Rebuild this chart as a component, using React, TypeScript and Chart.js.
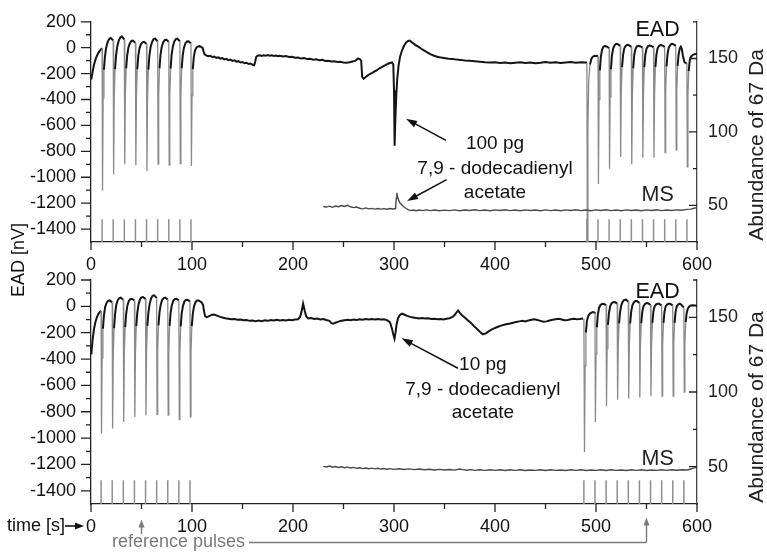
import React, { useEffect, useRef } from 'react';
import { Chart, registerables } from 'chart.js';

Chart.register(...registerables);

type P = [number, number];

const FONT = "'Liberation Sans', Arial, Helvetica, sans-serif";
const AXIS = '#222';
const TRACE = '#151515';
const SPIKE = '#8a8a8a';
const PULSE = '#8f8f8f';
const MSCOL = '#4a4a4a';

// ---------- axes ----------
const xTicks = [0, 100, 200, 300, 400, 500, 600];
const xMinor = [50, 150, 250, 350, 450, 550];
const eadTicks = [200, 0, -200, -400, -600, -800, -1000, -1200, -1400];
const eadMinor = [100, -100, -300, -500, -700, -900, -1100, -1300];
const msTicks = [50, 100, 150];
const msMinor = [75, 125, 175];

// ---------- reference pulses (s) ----------
const topPulses = [11, 22, 33, 44, 55, 66, 77, 88, 99, 491, 502, 513, 524, 535, 546, 557, 568, 579, 590];
const bottomPulses = [10, 21, 32, 43, 54, 65, 76, 87, 98, 488, 499, 510, 521, 532, 543, 554, 565, 576, 587];
const topPulseHeight = -1325;
const bottomPulseHeight = -1320;

// ---------- top panel: EAD (nV) ----------
const topEadLeft: P[] = [
  [0.3, -245], [1.5, -190], [3, -130], [4.5, -90], [6, -60], [7.5, -38], [9, -20], [10.5, -8], [11, -5],
  [11.4, -1103], [12, -390], [12.8, -170], [13.8, -70], [15, 0], [16.5, 45], [18, 68], [19.5, 75], [21, 64], [22, 56],
  [22.4, -978], [23, -380], [23.8, -165], [24.8, -60], [26, 10], [27.5, 55], [29, 80], [30.5, 88], [32, 72], [33, 62],
  [33.4, -899], [34, -370], [34.8, -160], [35.8, -62], [37, 0], [38.5, 35], [40, 52], [41.5, 55], [43, 44], [44, 38],
  [44.4, -907], [45, -370], [45.8, -165], [46.8, -65], [48, -5], [49.5, 28], [51, 42], [52.5, 45], [54, 36], [55, 30],
  [55.4, -952], [56, -380], [56.8, -170], [57.8, -62], [59, 5], [60.5, 45], [62, 66], [63.5, 70], [65, 58], [66, 50],
  [66.4, -899], [67, -365], [67.8, -160], [68.8, -58], [70, 5], [71.5, 42], [73, 58], [74.5, 62], [76, 52], [77, 46],
  [77.4, -907], [78, -370], [78.8, -162], [79.8, -56], [81, 8], [82.5, 48], [84, 66], [85.5, 70], [87, 58], [88, 50],
  [88.4, -894], [89, -365], [89.8, -160], [90.8, -60], [92, 0], [93.5, 35], [95, 48], [96.5, 50], [98, 40], [99, 34],
  [99.4, -914], [100, -370], [100.8, -165], [101.8, -70], [103, -20], [104.5, 2], [106, 10], [107.5, 12], [109, 6], [110.5, -2],
  [111.5, -30], [112.5, -52], [114, -60], [116, -66], [118, -62], [120, -72], [122, -68], [124, -78], [126, -74], [128, -84],
  [130, -80], [132, -90], [134, -86], [136, -96], [138, -92], [140, -102], [142, -98], [144, -108], [146, -104], [148, -114],
  [150, -110], [152, -120], [154, -116], [156, -126], [158, -122], [160, -132], [161.5, -136],
];
const topEadMiddle: P[] = [
  [162.5, -110], [163.5, -72], [165, -62], [167, -58], [169, -64], [171, -58], [173, -62], [175, -56], [177, -62], [179, -58],
  [181, -64], [183, -60], [185, -66], [187, -62], [190, -68], [193, -64], [196, -72], [199, -70], [202, -78], [205, -76],
  [208, -84], [211, -80], [214, -88], [217, -86], [220, -92], [223, -90], [226, -96], [229, -94], [232, -102], [235, -100],
  [238, -106], [241, -104], [244, -110], [247, -108], [250, -114], [253, -116], [256, -112], [259, -106], [262, -100], [264, -84],
  [266, -86], [267.5, -100], [268.5, -225], [270, -240], [272, -226], [274, -214], [276, -204], [278, -196], [280, -186], [282, -178],
  [284, -168], [286, -158], [288, -150], [290, -140], [292, -132], [294, -124], [296, -118], [298, -114], [299.3, -130], [300, -330],
  [300.6, -756], [301.3, -560], [302.2, -380], [303.2, -240], [304.5, -140], [306, -70], [308, -20], [310, 15], [312, 40], [314, 52],
  [315.5, 55], [317, 46], [319, 34], [321, 22], [324, 8], [327, -8], [330, -22], [333, -36], [336, -50], [339, -60],
  [342, -68], [345, -74], [348, -78], [351, -82], [354, -86], [358, -88], [362, -92], [366, -94], [370, -98], [375, -100],
  [380, -104], [385, -108], [390, -112], [395, -115], [400, -112], [405, -118], [410, -114], [415, -120], [420, -116], [425, -112],
  [430, -118], [435, -114], [440, -120], [445, -116], [450, -110], [455, -116], [460, -112], [465, -118], [470, -114], [475, -110],
  [480, -116], [485, -112], [490, -114],
];
const topEadRight: P[] = [
  [491, -118], [491.4, -1600], [492, -600], [492.8, -260], [494, -130], [495.5, -85], [497, -68], [499, -62], [501, -64], [502, -66],
  [502.4, -1053], [503, -400], [503.8, -175], [504.8, -70], [506, -15], [507.5, 8], [509, 12], [510.5, 10], [512, 2], [513, -4],
  [513.4, -935], [514, -380], [514.8, -165], [515.8, -60], [517, -5], [518.5, 20], [520, 30], [521.5, 28], [523, 20], [524, 14],
  [524.4, -844], [525, -350], [525.8, -150], [526.8, -55], [528, -5], [529.5, 15], [531, 22], [532.5, 20], [534, 12], [535, 6],
  [535.4, -900], [536, -370], [536.8, -160], [537.8, -60], [539, -10], [540.5, 10], [542, 14], [543.5, 12], [545, 6], [546, 0],
  [546.4, -850], [547, -350], [547.8, -150], [548.8, -56], [550, -8], [551.5, 12], [553, 16], [554.5, 14], [556, 8], [557, 2],
  [557.4, -850], [558, -350], [558.8, -150], [559.8, -55], [561, -5], [562.5, 15], [564, 20], [565.5, 18], [567, 12], [568, 6],
  [568.4, -810], [569, -340], [569.8, -145], [570.8, -52], [572, 0], [573.5, 20], [575, 30], [576.5, 28], [578, 20], [579, 14],
  [579.4, -790], [580, -335], [580.8, -140], [581.8, -50], [583, -5], [584, 8], [585, -10], [586, -60], [587.5, -110], [589, -120], [590, -118],
  [590.4, -919], [591, -380], [591.8, -180], [592.8, -100], [594, -70], [595.5, -58], [597, -52], [598.5, -48], [600, -46],
];

// ---------- top panel: MS, abundance of 67 Da ----------
const topMs: P[] = [
  [230, 49.2], [233, 48.8], [236, 49.4], [239, 48.6], [242, 49.5], [245, 49], [248, 49.8], [251, 49.2], [254, 50], [257, 49],
  [260, 48.4], [263, 48.8], [266, 48], [269, 47.6], [272, 48.2], [275, 47.6], [278, 47.9], [281, 47.4], [284, 47.8], [287, 47.4],
  [290, 47.7], [293, 47.3], [296, 47.8], [299, 47.5], [301.5, 47.8], [302.3, 55], [302.8, 58.4], [303.5, 56], [304.5, 53.5], [306, 51.5],
  [308, 50], [310, 48.8], [312, 47.8], [314, 47], [316, 46.4], [319, 46.8], [322, 46.3], [325, 46.8], [328, 46.4], [332, 46.9],
  [336, 46.4], [340, 46.8], [345, 46.3], [350, 46.7], [355, 46.4], [360, 46.9], [365, 46.3], [370, 46.8], [375, 46.5], [380, 47],
  [385, 46.4], [390, 46.8], [395, 46.3], [400, 46.9], [405, 46.5], [410, 47], [415, 46.4], [420, 46.8], [425, 46.3], [430, 46.9],
  [435, 46.5], [440, 46.8], [445, 46.3], [450, 46.9], [455, 46.4], [460, 46.8], [465, 46.3], [470, 46.9], [475, 46.5], [480, 47],
  [485, 46.4], [490, 46.8], [495, 46.3], [500, 46.9], [505, 46.5], [510, 47], [515, 46.4], [520, 46.8], [525, 46.3], [530, 46.9],
  [535, 46.5], [540, 46.8], [545, 46.3], [550, 46.9], [555, 46.5], [560, 47], [565, 46.4], [570, 46.8], [575, 46.5], [580, 46.9],
  [585, 46.6], [590, 47.2], [594, 47.4], [597, 48], [600, 48.4],
];

// ---------- bottom panel: EAD (nV) ----------
const bottomEadLeft: P[] = [
  [0.3, -365], [1.5, -260], [3, -170], [4.5, -115], [6, -80], [7.5, -55], [9, -40], [10, -34],
  [10.4, -965], [11, -390], [11.8, -170], [12.8, -70], [14, -5], [15.5, 28], [17, 42], [18.5, 45], [20, 36], [21, 30],
  [21.4, -927], [22, -380], [22.8, -165], [23.8, -60], [25, 10], [26.5, 48], [28, 62], [29.5, 66], [31, 56], [32, 50],
  [32.4, -877], [33, -360], [33.8, -158], [34.8, -58], [36, 5], [37.5, 42], [39, 55], [40.5, 58], [42, 50], [43, 44],
  [43.4, -839], [44, -350], [44.8, -150], [45.8, -52], [47, 12], [48.5, 52], [50, 68], [51.5, 71], [53, 62], [54, 55],
  [54.4, -826], [55, -345], [55.8, -148], [56.8, -50], [58, 15], [59.5, 60], [61, 80], [62.5, 84], [64, 72], [65, 64],
  [65.4, -819], [66, -340], [66.8, -145], [67.8, -48], [69, 12], [70.5, 50], [72, 63], [73.5, 66], [75, 58], [76, 52],
  [76.4, -826], [77, -345], [77.8, -148], [78.8, -52], [80, 8], [81.5, 44], [83, 55], [84.5, 58], [86, 50], [87, 44],
  [87.4, -859], [88, -355], [88.8, -152], [89.8, -55], [91, 2], [92.5, 38], [94, 48], [95.5, 50], [97, 42], [98, 36],
  [98.4, -839], [99, -350], [99.8, -150], [100.8, -55], [102, 0], [103.5, 32], [105, 44], [106.5, 45], [108, 38], [109.5, 30],
  [111, 10], [112, -40], [113, -75], [114.5, -82], [116, -78], [118, -70], [120, -64], [122, -62], [124, -68], [126, -74], [128, -80],
];
const bottomEadMiddle: P[] = [
  [130, -84], [133, -90], [136, -94], [139, -98], [142, -96], [145, -102], [148, -100], [151, -106], [154, -104], [157, -110],
  [160, -107], [163, -112], [166, -108], [169, -112], [172, -106], [175, -110], [178, -104], [181, -108], [184, -102], [187, -108],
  [190, -103], [193, -108], [196, -102], [199, -106], [202, -100], [205, -98], [207, -80], [208.5, -40], [210, 20], [211.5, -30],
  [213, -75], [215, -92], [218, -88], [221, -96], [224, -92], [227, -100], [230, -96], [233, -104], [236, -110], [238, -128],
  [240, -132], [242, -124], [245, -116], [248, -110], [251, -106], [254, -102], [257, -106], [260, -100], [263, -104], [266, -98],
  [269, -102], [272, -96], [275, -100], [278, -96], [281, -100], [284, -96], [287, -100], [290, -98], [293, -104], [296, -120],
  [298, -170], [299.5, -220], [300.5, -245], [301.5, -200], [302.5, -140], [304, -90], [306, -64], [308, -55], [310, -62], [313, -72],
  [316, -80], [319, -84], [322, -88], [325, -92], [328, -88], [331, -92], [334, -90], [337, -96], [340, -94], [343, -98],
  [346, -96], [349, -100], [352, -94], [355, -90], [358, -80], [360, -66], [362, -45], [363.5, -32], [365, -48], [367, -65],
  [370, -85], [373, -105], [376, -125], [379, -148], [382, -170], [385, -192], [388, -212], [391, -205], [394, -188], [397, -175],
  [400, -164], [403, -155], [406, -146], [409, -140], [412, -134], [415, -130], [418, -124], [421, -118], [424, -114], [427, -110],
  [430, -114], [433, -108], [436, -102], [439, -98], [442, -104], [445, -110], [448, -116], [451, -114], [454, -108], [457, -102],
  [460, -98], [463, -94], [466, -100], [469, -106], [472, -104], [475, -98], [478, -94], [481, -98], [484, -96], [487.2, -92],
];
const bottomEadRight: P[] = [
  [488, -92], [488.6, -1105], [489.2, -450], [490, -200], [491, -110], [492.5, -70], [494, -55], [495.5, -48], [497, -44], [498.5, -46], [499, -48],
  [499.4, -877], [500, -360], [500.8, -160], [501.8, -65], [503, -12], [504.5, 10], [506, 18], [507.5, 20], [509, 14], [510, 8],
  [510.4, -758], [511, -320], [511.8, -140], [512.8, -52], [514, 0], [515.5, 24], [517, 32], [518.5, 33], [520, 26], [521, 20],
  [521.4, -708], [522, -300], [522.8, -130], [523.8, -45], [525, 8], [526.5, 36], [528, 49], [529.5, 51], [531, 42], [532, 36],
  [532.4, -700], [533, -300], [533.8, -130], [534.8, -42], [536, 8], [537.5, 30], [539, 40], [540.5, 40], [542, 32], [543, 26],
  [543.4, -692], [544, -295], [544.8, -128], [545.8, -42], [547, 2], [548.5, 18], [550, 25], [551.5, 24], [553, 16], [554, 10],
  [554.4, -682], [555, -290], [555.8, -125], [556.8, -42], [558, 0], [559.5, 15], [561, 20], [562.5, 19], [564, 12], [565, 6],
  [565.4, -682], [566, -290], [566.8, -125], [567.8, -42], [569, 0], [570.5, 15], [572, 20], [573.5, 19], [575, 12], [576, 6],
  [576.4, -682], [577, -290], [577.8, -125], [578.8, -42], [580, 0], [581.5, 15], [583, 20], [584.5, 12], [586, -2], [587, -8],
  [587.4, -650], [588, -280], [588.8, -120], [589.8, -50], [591, -15], [592.5, 0], [594, 6], [596, 8], [598, 6], [600, 4],
];

// ---------- bottom panel: MS, abundance of 67 Da ----------
const bottomMs: P[] = [
  [230, 50.2], [233, 49.8], [236, 50.4], [239, 49.6], [242, 50.1], [245, 49.5], [248, 49.9], [251, 49.3], [254, 49.7], [257, 49.1],
  [260, 49.5], [263, 48.9], [266, 49.3], [269, 48.7], [272, 49.1], [275, 48.6], [278, 49], [281, 48.5], [284, 48.9], [287, 48.4],
  [290, 48.8], [293, 48.3], [296, 48.7], [300, 48.2], [305, 48.6], [310, 48.1], [315, 48.5], [320, 48], [325, 48.4], [330, 47.9],
  [335, 48.3], [340, 47.8], [345, 48.2], [350, 47.8], [355, 48.1], [360, 47.7], [365, 48.4], [368, 48], [372, 47.6], [376, 48],
  [380, 47.5], [385, 47.9], [390, 47.5], [395, 47.9], [400, 47.5], [405, 47.9], [410, 47.4], [415, 47.9], [420, 47.5], [425, 47.9],
  [430, 47.4], [435, 47.8], [440, 47.5], [445, 47.9], [450, 47.4], [455, 47.9], [460, 47.5], [465, 47.8], [470, 47.4], [475, 47.9],
  [480, 47.5], [485, 47.9], [490, 47.4], [495, 47.8], [500, 47.5], [505, 47.9], [510, 47.4], [515, 47.9], [520, 47.5], [525, 47.8],
  [530, 47.4], [535, 47.9], [540, 47.5], [545, 47.9], [550, 47.4], [555, 47.8], [560, 47.5], [565, 47.9], [570, 47.5], [575, 47.9],
  [580, 47.6], [585, 47.9], [590, 47.8], [593, 48.3], [596, 48.8], [598, 49.4], [600, 49.6],
];

// ---------- annotation texts ----------
const topNote = ['100 pg', '7,9 - dodecadienyl', 'acetate'];
const bottomNote = ['10 pg', '7,9 - dodecadienyl', 'acetate'];
const eadLabel = 'EAD';
const msLabel = 'MS';
const leftTitle = 'EAD [nV]';
const rightTitle = 'Abundance of 67 Da';
const timeLabel = 'time [s]';
const pulsesLabel = 'reference pulses';

// ---------------------------------------------------------
const toXY = (arr: P[]) => arr.map(([x, y]) => ({ x, y }));
const pulseBars = (pulses: number[], top: number) =>
  pulses.flatMap((t) => [{ x: t, y: -1500 }, { x: t, y: top }, { x: t, y: null as any }]);

function arrow(ctx: any, x1: number, y1: number, x2: number, y2: number, color: string, len = 11, half = 3.6, lw = 1.5) {
  const ang = Math.atan2(y2 - y1, x2 - x1);
  ctx.save();
  ctx.strokeStyle = color;
  ctx.fillStyle = color;
  ctx.lineWidth = lw;
  ctx.beginPath();
  ctx.moveTo(x1, y1);
  ctx.lineTo(x2 - Math.cos(ang) * (len - 2), y2 - Math.sin(ang) * (len - 2));
  ctx.stroke();
  ctx.beginPath();
  ctx.moveTo(x2, y2);
  ctx.lineTo(x2 - Math.cos(ang) * len - Math.sin(ang) * half, y2 - Math.sin(ang) * len + Math.cos(ang) * half);
  ctx.lineTo(x2 - Math.cos(ang) * len + Math.sin(ang) * half, y2 - Math.sin(ang) * len - Math.cos(ang) * half);
  ctx.closePath();
  ctx.fill();
  ctx.restore();
}

function text(ctx: any, s: string, x: number, y: number, size: number, color = '#111', align = 'center', rot = 0, baseline = 'alphabetic') {
  ctx.save();
  ctx.translate(x, y);
  if (rot) ctx.rotate(rot);
  ctx.font = `${size}px ${FONT}`;
  ctx.fillStyle = color;
  ctx.textAlign = align;
  ctx.textBaseline = baseline;
  ctx.fillText(s, 0, 0);
  ctx.restore();
}

const ticksPlugin = {
  id: 'minorMajorTicks',
  afterDraw(chart: any) {
    const { ctx, chartArea: a, scales } = chart;
    ctx.save();
    ctx.strokeStyle = AXIS;
    ctx.lineWidth = 1.3;
    ctx.beginPath();
    xTicks.forEach((v) => { const p = scales.x.getPixelForValue(v); ctx.moveTo(p, a.bottom); ctx.lineTo(p, a.bottom + 8); });
    xMinor.forEach((v) => { const p = scales.x.getPixelForValue(v); ctx.moveTo(p, a.bottom); ctx.lineTo(p, a.bottom + 5); });
    eadTicks.forEach((v) => { const p = scales.y.getPixelForValue(v); ctx.moveTo(a.left - 10, p); ctx.lineTo(a.left, p); });
    eadMinor.forEach((v) => { const p = scales.y.getPixelForValue(v); ctx.moveTo(a.left - 5, p); ctx.lineTo(a.left, p); });
    msTicks.forEach((v) => { const p = scales.y1.getPixelForValue(v); ctx.moveTo(a.right - 8, p); ctx.lineTo(a.right, p); });
    msMinor.forEach((v) => { const p = scales.y1.getPixelForValue(v); ctx.moveTo(a.right - 4, p); ctx.lineTo(a.right, p); });
    ctx.stroke();
    ctx.restore();
  },
};

function makeConfig(opts: any) {
  const { ead, ms, pulses, pulseTop, padTop, padBottom, overlay } = opts;
  const spikeSeg = (c: any) => {
    const x0 = c.p0.parsed.x;
    const near = pulses.some((t: number) => x0 >= t - 0.05 && x0 < t + 2.6);
    return near && Math.min(c.p0.parsed.y, c.p1.parsed.y) < -200;
  };
  const tickFont = { family: FONT, size: 18 };
  return {
    type: 'line',
    data: {
      datasets: [
        { data: pulseBars(pulses, pulseTop), yAxisID: 'y', borderColor: PULSE, borderWidth: 1.5, pointRadius: 0, spanGaps: false },
        { data: toXY(ms), yAxisID: 'y1', borderColor: MSCOL, borderWidth: 1.4, pointRadius: 0 },
        {
          data: toXY(ead),
          yAxisID: 'y',
          borderColor: TRACE,
          borderWidth: 2,
          pointRadius: 0,
          segment: {
            borderColor: (c: any) => (spikeSeg(c) ? SPIKE : undefined),
            borderWidth: (c: any) => (spikeSeg(c) ? 1.3 : undefined),
          },
        },
      ],
    },
    options: {
      responsive: false,
      animation: false,
      devicePixelRatio: 1,
      layout: { padding: { top: padTop, bottom: padBottom, left: 0, right: 0 } },
      plugins: { legend: { display: false }, tooltip: { enabled: false } },
      elements: { line: { tension: 0 }, point: { radius: 0 } },
      scales: {
        x: {
          type: 'linear', min: 0, max: 600,
          afterFit: (s: any) => { s.height = 30; },
          afterBuildTicks: (s: any) => { s.ticks = xTicks.map((v) => ({ value: v })); },
          grid: { display: false, drawTicks: true, tickLength: 8 },
          border: { display: true, color: AXIS, width: 1.3 },
          ticks: { padding: 4, font: tickFont, color: '#111', maxRotation: 0, autoSkip: false, callback: (v: any) => String(v) },
        },
        y: {
          type: 'linear', position: 'left', min: -1500, max: 200,
          afterFit: (s: any) => { s.width = 91; },
          afterBuildTicks: (s: any) => { s.ticks = eadTicks.map((v) => ({ value: v })); },
          grid: { display: false, drawTicks: true, tickLength: 10 },
          border: { display: true, color: AXIS, width: 1.3 },
          ticks: { padding: 5, font: tickFont, color: '#111', autoSkip: false, callback: (v: any) => String(v) },
        },
        y1: {
          type: 'linear', position: 'right', min: 25, max: 175,
          afterFit: (s: any) => { s.width = 70; },
          afterBuildTicks: (s: any) => { s.ticks = msTicks.map((v) => ({ value: v })); },
          grid: { display: false, drawTicks: false },
          border: { display: true, color: '#444', width: 1.3 },
          ticks: { padding: 11, font: tickFont, color: '#222', autoSkip: false, callback: (v: any) => String(v) },
        },
      },
    },
    plugins: [ticksPlugin, overlay],
  };
}

const topOverlay = {
  id: 'topOverlay',
  afterDraw(chart: any) {
    const { ctx, scales } = chart;
    const X = (v: number) => scales.x.getPixelForValue(v);
    const Y = (v: number) => scales.y.getPixelForValue(v);
    text(ctx, eadLabel, X(561), Y(88), 21.5);
    text(ctx, msLabel, X(561), Y(-1184), 21.5, '#222');
    text(ctx, topNote[0], X(400), Y(-780), 19);
    text(ctx, topNote[1], X(400), Y(-977), 19);
    text(ctx, topNote[2], X(400), Y(-1162), 19);
    arrow(ctx, X(351.4), Y(-716), X(311.9), Y(-549), '#111');
    arrow(ctx, X(352.1), Y(-1018), X(312.9), Y(-1184), '#111');
    text(ctx, rightTitle, 757, (chart.chartArea.top + chart.chartArea.bottom) / 2 + 13, 21, '#222', 'center', -Math.PI / 2, 'middle');
    text(ctx, leftTitle, 19, 260, 18, '#111', 'center', -Math.PI / 2, 'middle');
  },
};

const bottomOverlay = {
  id: 'bottomOverlay',
  afterDraw(chart: any) {
    const { ctx, scales, chartArea: a } = chart;
    const X = (v: number) => scales.x.getPixelForValue(v);
    const Y = (v: number) => scales.y.getPixelForValue(v);
    text(ctx, eadLabel, X(561), Y(62), 21.5);
    text(ctx, msLabel, X(561), Y(-1205), 21.5, '#222');
    text(ctx, bottomNote[0], X(388), Y(-485), 19);
    text(ctx, bottomNote[1], X(388), Y(-675), 19);
    text(ctx, bottomNote[2], X(388), Y(-849), 19);
    arrow(ctx, X(363.3), Y(-470), X(307.6), Y(-243), '#111');
    text(ctx, rightTitle, 757, (a.top + a.bottom) / 2 + 15, 21, '#222', 'center', -Math.PI / 2, 'middle');
    // time axis label with arrow
    text(ctx, timeLabel, 7, a.bottom + 26.5, 18, '#111', 'left');
    arrow(ctx, 65, a.bottom + 22, 84, a.bottom + 22, '#111', 9, 3.5, 1.6);
    // reference pulses
    const g = '#7a7a7a';
    text(ctx, pulsesLabel, 112, a.bottom + 42.5, 18, g, 'left');
    arrow(ctx, X(50), a.bottom + 30, X(50), a.bottom + 15.5, g, 8, 3, 1.4);
    ctx.save();
    ctx.strokeStyle = g;
    ctx.lineWidth = 1.4;
    ctx.beginPath();
    ctx.moveTo(249, a.bottom + 38.5);
    ctx.lineTo(X(550), a.bottom + 38.5);
    ctx.stroke();
    ctx.restore();
    arrow(ctx, X(550), a.bottom + 38.5, X(550), a.bottom + 13.5, g, 8, 3, 1.4);
  },
};

function Panel({ config }: { config: any }) {
  const ref = useRef<HTMLCanvasElement | null>(null);
  useEffect(() => {
    if (!ref.current) return;
    const chart = new Chart(ref.current, config);
    return () => chart.destroy();
  }, [config]);
  return (
    <canvas
      ref={ref}
      width={767}
      height={552}
      style={{ position: 'absolute', left: 0, top: 0, width: 767, height: 552 }}
    />
  );
}

const topConfig = makeConfig({
  ead: [...topEadLeft, ...topEadMiddle, ...topEadRight], ms: topMs,
  pulses: topPulses, pulseTop: topPulseHeight, padTop: 17, padBottom: 280, overlay: topOverlay,
});
const bottomConfig = makeConfig({
  ead: [...bottomEadLeft, ...bottomEadMiddle, ...bottomEadRight], ms: bottomMs,
  pulses: bottomPulses, pulseTop: bottomPulseHeight, padTop: 280, padBottom: 18, overlay: bottomOverlay,
});

export default function App() {
  return (
    <div style={{ position: 'absolute', left: 0, top: 0, width: 767, height: 552, background: '#fff', overflow: 'hidden' }}>
      <Panel config={topConfig} />
      <Panel config={bottomConfig} />
    </div>
  );
}
